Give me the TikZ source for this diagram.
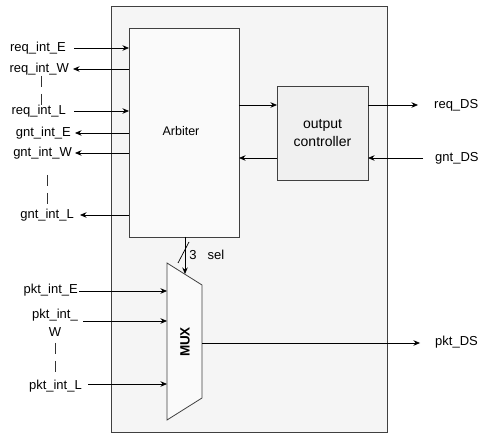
\documentclass[tikz,border=0pt]{standalone}
\usepackage{fontspec}
\setmainfont{Liberation Sans}
\usetikzlibrary{arrows.meta}
\tikzset{
  box/.style={draw=black!75, line width=0.8pt},
  wire/.style={draw=black, line width=0.7pt},
  arr/.style={wire, -{Stealth[length=6.5pt,width=5.5pt]}},
  lbl/.style={inner sep=0pt, font=\fontsize{13}{15}\selectfont},
  vdash/.style={draw=black!80, line width=0.7pt, dash pattern=on 11pt off 7pt}
}
\begin{document}
\begin{tikzpicture}[x=1pt,y=-1pt]
\useasboundingbox (0,0) rectangle (479,435);
\fill[white] (0,0) rectangle (479,435);
% outer block
\draw[box, fill=black!4] (111,6) rectangle (387,432);
% arbiter
\draw[box, fill=black!2] (129,28) rectangle (239,237);
\node[lbl, font=\fontsize{12.5}{14}\selectfont] (arb) at (181,131) {Arbiter};
% output controller
\draw[box, fill=black!6] (277,86) rectangle (368,180);
\node[lbl, align=center, font=\fontsize{14}{16}\selectfont] (oc) at (322.5,133) {output\\[2pt]controller};
% MUX
\draw[box, fill=black!2] (167,263) -- (202,285) -- (202,398) -- (167,420) -- cycle;
\node[lbl, rotate=90, font=\fontsize{13.5}{15}\selectfont\bfseries] (mux) at (185,342) {MUX};

% coordinates on boxes
\coordinate (aE) at (129,48);
\coordinate (aW) at (129,69);
\coordinate (aL) at (129,111);
\coordinate (agE) at (129,133);
\coordinate (agW) at (129,153);
\coordinate (agL) at (129,215);
\coordinate (aR1) at (239,105);
\coordinate (aR2) at (239,158);
\coordinate (oL1) at (277,105);
\coordinate (oL2) at (277,158);
\coordinate (oR1) at (368,105);
\coordinate (oR2) at (368,158);
\coordinate (aB) at (185,237);
\coordinate (mT) at (185,274);
\coordinate (mE) at (167,291);
\coordinate (mW) at (167,321);
\coordinate (mL) at (167,384);
\coordinate (mO) at (202,343);

% left labels
\node[lbl, anchor=east] (reqE) at (66,48) {req\_int\_E};
\node[lbl, anchor=east] (reqW) at (69,69) {req\_int\_W};
\node[lbl, anchor=east] (reqL) at (66,111) {req\_int\_L};
\node[lbl, anchor=east] (gntE) at (71,133) {gnt\_int\_E};
\node[lbl, anchor=east] (gntW) at (72,153) {gnt\_int\_W};
\node[lbl, anchor=east] (gntL) at (74,215) {gnt\_int\_L};
\node[lbl, anchor=east] (pktE) at (78,290) {pkt\_int\_E};
\node[lbl, align=center] (pktW) at (55,323) {pkt\_int\_\\[3pt]W};
\node[lbl, anchor=east] (pktL) at (82,386) {pkt\_int\_L};
% right labels
\node[lbl, anchor=west] (reqDS) at (434,105) {req\_DS};
\node[lbl, anchor=west] (gntDS) at (435,158) {gnt\_DS};
\node[lbl, anchor=west] (pktDS) at (435,342) {pkt\_DS};

% left wires
\coordinate (sE) at (74,48);
\coordinate (sW) at (73,69);
\coordinate (sL) at (74,111);
\coordinate (sgE) at (75,133);
\coordinate (sgW) at (75,153);
\coordinate (sgL) at (80,215);
\coordinate (spE) at (79,291);
\coordinate (spW) at (83,321);
\coordinate (spL) at (88,384);
\draw[arr] (sE) -- (aE);
\draw[arr] (aW) -- (sW);
\draw[arr] (sL) -- (aL);
\draw[arr] (agE) -- (sgE);
\draw[arr] (agW) -- (sgW);
\draw[arr] (agL) -- (sgL);
\draw[arr] (spE) -- (mE);
\draw[arr] (spW) -- (mW);
\draw[arr] (spL) -- (mL);

% dashed continuation marks
\draw[vdash] (41,76) -- (41,106);
\draw[vdash] (47,175) -- (47,204);
\draw[vdash] (55,343) -- (55,373);

% arbiter <-> output controller
\draw[arr] (aR1) -- (oL1);
\draw[arr] (oL2) -- (aR2);
% right side
\coordinate (eR1) at (418,105);
\coordinate (eR2) at (423,158);
\coordinate (eO) at (420,343);
\draw[arr] (oR1) -- (eR1);
\draw[arr] (eR2) -- (oR2);
\draw[arr] (mO) -- (eO);

% sel bus
\draw[arr] (aB) -- (mT);
\draw[wire] (178,263) -- (189,242);
\node[lbl] (three) at (193,255) {3};
\node[lbl] (sel) at (216,255) {sel};
\end{tikzpicture}
\end{document}
